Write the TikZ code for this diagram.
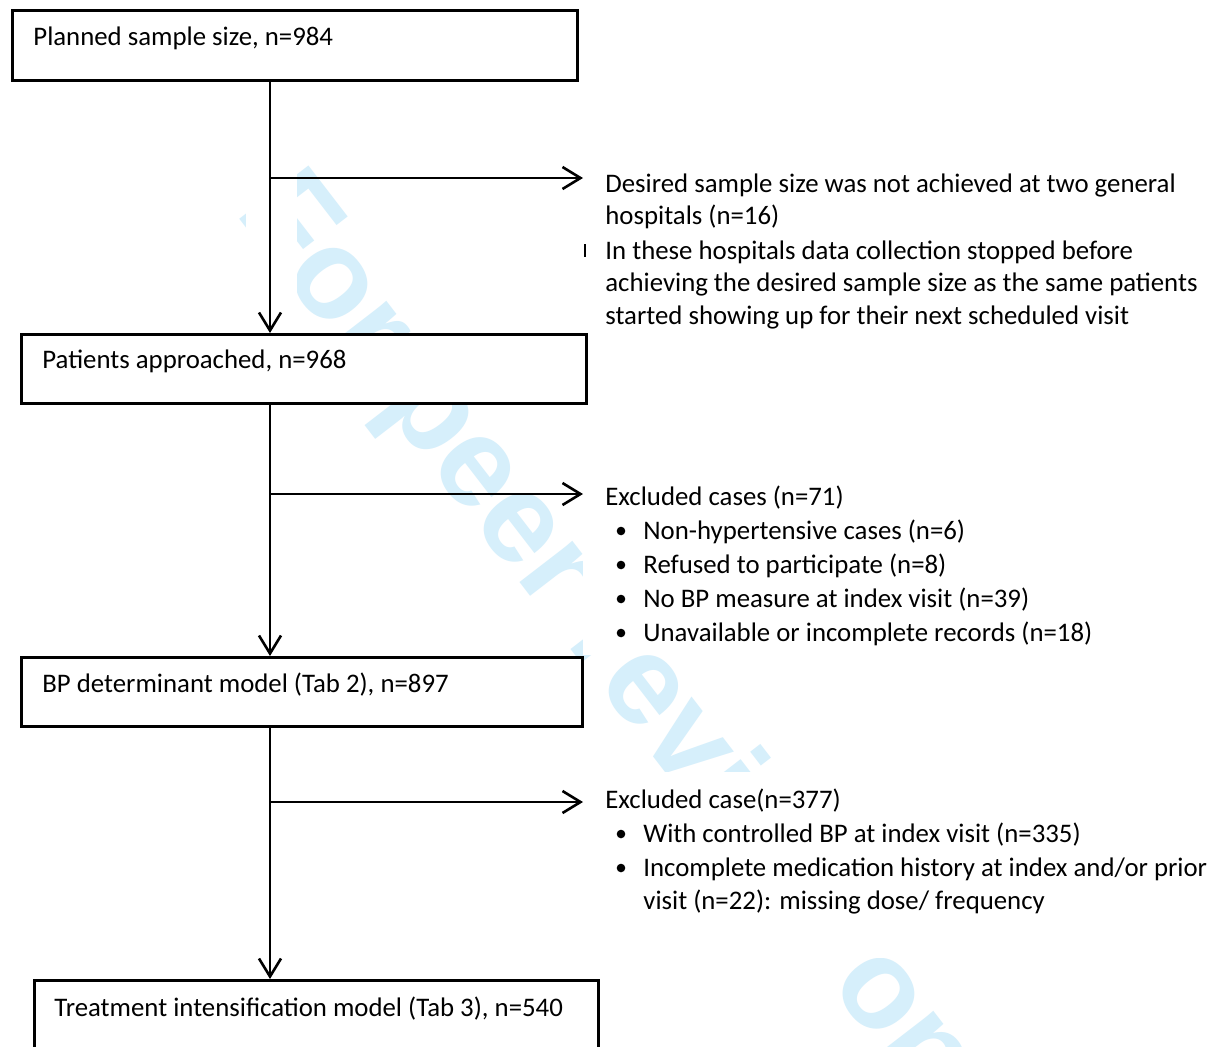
\documentclass[tikz,border=0pt]{standalone}
\usepackage{fontspec}
\setmainfont{Carlito}
\newfontfamily\wmfont{Liberation Sans}
\usetikzlibrary{arrows.meta}
\definecolor{wmblue}{RGB}{214,239,251}
\begin{document}
\begin{tikzpicture}[x=0.5pt,y=-0.5pt,
  box/.style={draw=black, line width=1.3pt, fill=white, inner sep=0pt, anchor=north west},
  lbl/.style={anchor=base west, inner sep=0pt, font=\fontsize{13.4}{16}\selectfont},
  flow/.style={line width=1.3pt, -{Straight Barb[length=9pt,width=11pt]}},
  mask/.style={fill=white, draw=none},
  bul/.style={circle, fill=black, draw=none, inner sep=0pt, minimum size=4.3pt}
]
\useasboundingbox (0,0) rectangle (1212,1046);
\clip (0,0) rectangle (1212,1046);
\fill[white] (0,0) rectangle (1212,1046);
% watermark
\node[anchor=base west, rotate=-52.4, inner sep=0pt, text=wmblue,
  font=\wmfont\bfseries\fontsize{63.5}{70}\selectfont] (wm) at (234,212) {For peer review only};
% white masks
\fill[mask] (246,79) rectangle (297,333);
\fill[mask] (583,160) rectangle (1212,340);
\fill[mask] (583,470) rectangle (1212,655);
\fill[mask] (583,772) rectangle (1212,958);
% boxes
\node[box, minimum width=282.5pt, minimum height=35pt] (b1) at (11,9) {};
\node[box, minimum width=282.5pt, minimum height=34.5pt] (b2) at (20,333) {};
\node[box, minimum width=280.5pt, minimum height=34.5pt] (b3) at (20,656) {};
\node[box, minimum width=282pt, minimum height=42pt] (b4) at (33,979) {};
\node[lbl] (l1) at (33,45) {Planned sample size, n=984};
\node[lbl] (l2) at (42,368) {Patients approached, n=968};
\node[lbl] (l3) at (42,692) {BP determinant model (Tab 2), n=897};
\node[lbl] (l4) at (54,1016) {Treatment intensification model (Tab 3), n=540};
% junctions and free ends
\coordinate (j1) at (270,178);
\coordinate (j2) at (270,494);
\coordinate (j3) at (270,802);
\coordinate (e1) at (583,178);
\coordinate (e2) at (583,494);
\coordinate (e3) at (583,802);
% connectors
\draw[flow] (b1.south -| j1) -- (b2.north -| j1);
\draw[flow] (b2.south -| j2) -- (b3.north -| j2);
\draw[flow] (b3.south -| j3) -- (b4.north -| j3);
\draw[flow] (j1) -- (e1);
\draw[flow] (j2) -- (e2);
\draw[flow] (j3) -- (e3);
% side texts
\node[lbl] (t1a) at (605,192) {Desired sample size was not achieved at two general};
\node[lbl] (t1b) at (605,224) {hospitals (n=16)};
\node[lbl] (t1c) at (605,259) {In these hospitals data collection stopped before};
\node[lbl] (t1d) at (605,291) {achieving the desired sample size as the same patients};
\node[lbl] (t1e) at (605,324) {started showing up for their next scheduled visit};
\fill (584,244) rectangle (586,257);
\node[lbl] (t2) at (605,505) {Excluded cases (n=71)};
\node[bul] (u21) at (621,531) {};
\node[bul] (u22) at (621,565) {};
\node[bul] (u23) at (621,599) {};
\node[bul] (u24) at (621,633) {};
\node[lbl] (t21) at (643,539) {Non-hypertensive cases (n=6)};
\node[lbl] (t22) at (643,573) {Refused to participate (n=8)};
\node[lbl] (t23) at (643,607) {No BP measure at index visit (n=39)};
\node[lbl] (t24) at (643,641) {Unavailable or incomplete records (n=18)};
\node[lbl] (t3) at (605,808) {Excluded case(n=377)};
\node[bul] (u31) at (621,834) {};
\node[bul] (u32) at (621,868) {};
\node[lbl] (t31) at (643,842) {With controlled BP at index visit (n=335)};
\node[lbl] (t32) at (643,876) {Incomplete medication history at index and/or prior};
\node[lbl] (t33) at (643,909) {visit (n=22): missing dose/ frequency};
\end{tikzpicture}
\end{document}
